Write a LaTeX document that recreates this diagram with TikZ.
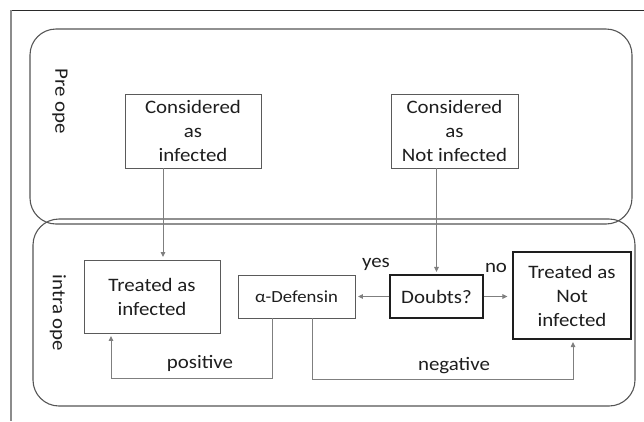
\documentclass[tikz,border=0pt]{standalone}
\usepackage{fontspec}
\setmainfont{Carlito}[FakeStretch=1.1]
\usetikzlibrary{arrows.meta,calc}
\definecolor{framegray}{HTML}{8C8C8C}
\definecolor{framedark}{HTML}{2A2A2A}
\definecolor{boxgray}{HTML}{5A5A5A}
\definecolor{linegray}{HTML}{7F7F7F}
\definecolor{darkline}{HTML}{1E1E1E}
\definecolor{panelgray}{HTML}{555555}
\begin{document}
\begin{tikzpicture}[x=1pt,y=-1pt,
  every node/.style={font=\fontsize{19}{24}\selectfont, text=darkline},
  gbox/.style={draw=boxgray, line width=0.9pt, align=center, inner sep=0pt},
  dbox/.style={draw=darkline, line width=1.1pt, align=center, inner sep=0pt},
  lbl/.style={inner sep=0pt},
  arr/.style={draw=linegray, line width=1pt, -{Triangle[length=5pt,width=4.5pt]}, shorten >=2.5pt},
  conn/.style={draw=linegray, line width=1pt},
  panel/.style={draw=panelgray, line width=1.1pt, rounded corners=26pt}]
\useasboundingbox (0,0) rectangle (644,421);
% outer frame
\draw[framedark, line width=1pt] (11,10) -- (644,10);
\draw[framegray, line width=1.2pt] (11,10) -- (11,421);
% panels
\draw[panel] (30,29) rectangle (632,224);
\draw[panel] (33,219) rectangle (635,406);
% side labels
\node[lbl, rotate=-90] (pre) at (60,101) {Pre ope};
\node[lbl, rotate=-90] (intra) at (58,313) {intra ope};
% boxes
\node[gbox, minimum width=136pt, minimum height=74pt] (cinf) at (193,131) {Considered\\as\\infected};
\node[gbox, minimum width=127pt, minimum height=74pt] (cnot) at (454.5,131) {Considered\\as\\Not infected};
\node[gbox, minimum width=136pt, minimum height=73pt] (tinf) at (152,296.5) {Treated as\\infected};
\node[gbox, minimum width=117pt, minimum height=43pt, font=\fontsize{17}{20}\selectfont] (adef) at (296.5,296.5) {α-Defensin};
\node[dbox, minimum width=93pt, minimum height=43pt] (doubts) at (436.5,296.5) {Doubts?};
\node[dbox, minimum width=118pt, minimum height=87pt] (tnot) at (572,295.5) {Treated as\\Not\\infected};
% labels
\node[lbl, anchor=base] (yes) at (376,267) {yes};
\node[lbl, anchor=base] (no) at (496,272) {no};
\node[lbl] (pos) at (200,363) {positive};
\node[lbl] (neg) at (454,366) {negative};
% connectors
\draw[arr] ([xshift=-30pt]cinf.south) -- ([xshift=-30pt]cinf.south |- tinf.north);
\draw[arr] ([xshift=-18pt]cnot.south) -- ([xshift=-18pt]cnot.south |- doubts.north);
\draw[arr] (doubts.west) -- (adef.east);
\draw[arr, shorten >=5pt] (doubts.east) -- (doubts.east -| tnot.west);
\draw[arr] ([xshift=-24.5pt]adef.south) -- ++(0,60) -| ([xshift=-41pt]tinf.south);
\draw[arr] ([xshift=15.5pt]adef.south) -- ++(0,61) -| ([xshift=1pt]tnot.south);
\end{tikzpicture}
\end{document}
